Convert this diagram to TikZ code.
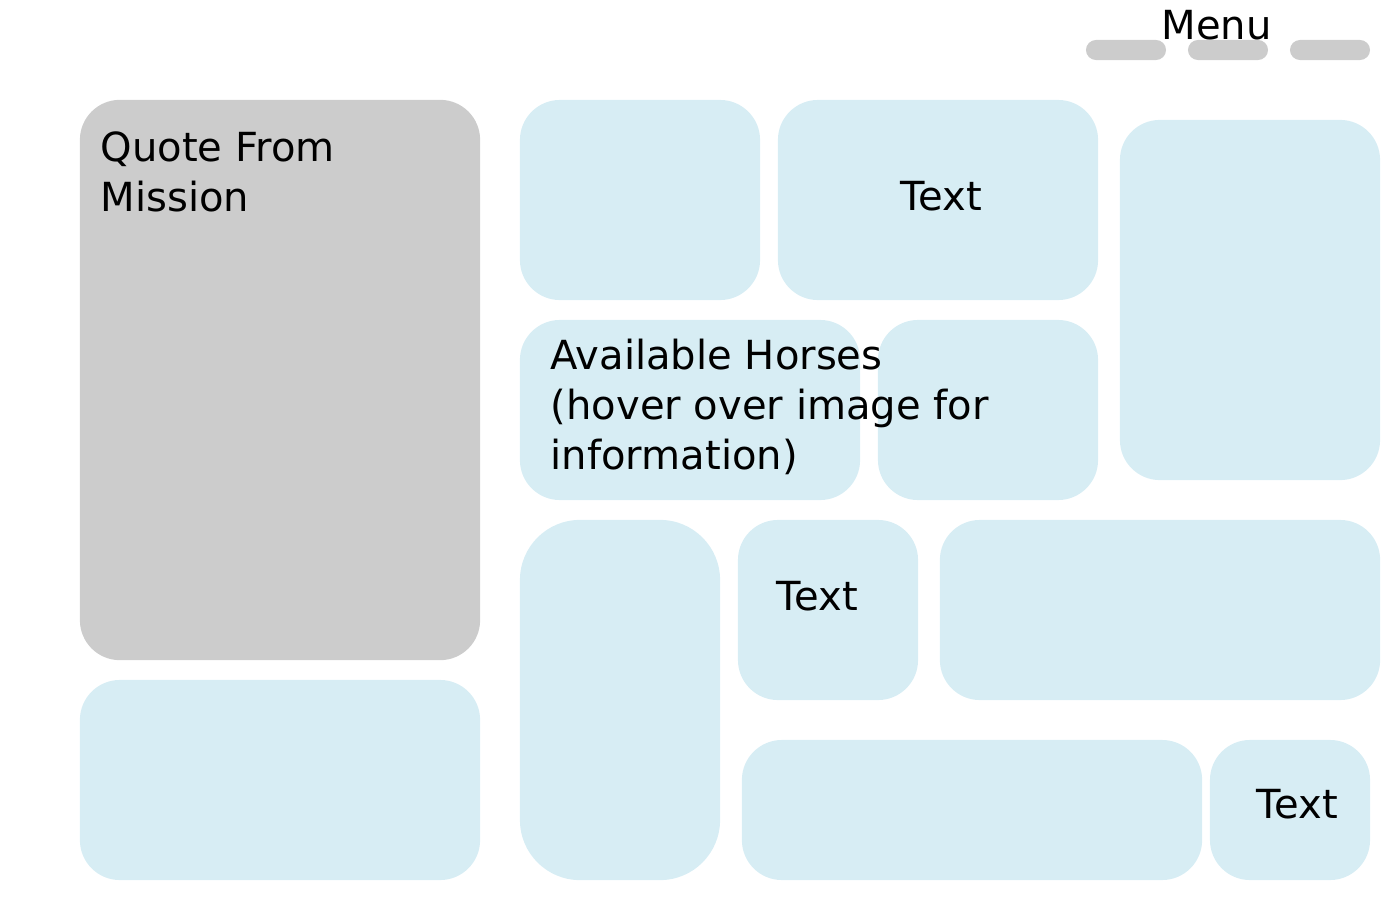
\documentclass[tikz,border=0pt]{standalone}
\usepackage{fontspec}
\setmainfont{DejaVu Sans}
\usetikzlibrary{positioning}

\definecolor{tileblue}{HTML}{D7EDF4}
\definecolor{tilegrey}{HTML}{CCCCCC}

\tikzset{
    tile/.style={fill=tileblue, draw=none, rounded corners=0.4cm, inner sep=0},
    greytile/.style={tile, fill=tilegrey},
    pill/.style={fill=tilegrey, draw=none, rounded corners=0.1cm,
        minimum width=0.8cm, minimum height=0.2cm, inner sep=0},
    lbl/.style={font=\fontsize{11.4}{14.2}\selectfont, inner sep=0,
        anchor=base west, align=left}
}

\begin{document}
\begin{tikzpicture}[x=0.01cm, y=-0.01cm]
\useasboundingbox (0,0) rectangle (1400,900);

% Menu
\node[pill] (pill1) at (1126,50) {};
\node[pill] (pill2) at (1228,50) {};
\node[pill] (pill3) at (1330,50) {};
\node[lbl] (menu) at (1161,39) {Menu};

% Left column
\node[greytile,
    minimum width=4cm,
    minimum height=5.6cm] (quote) at (280,380) {};
\node[tile,
    minimum width=4cm,
    minimum height=2cm] (bottomleft) at (280,780) {};

% Top row
\node[tile,
    minimum width=2.4cm,
    minimum height=2cm] (topA) at (640,200) {};
\node[tile,
    minimum width=3.2cm,
    minimum height=2cm] (topB) at (938,200) {};
\node[tile,
    minimum width=2.6cm,
    minimum height=3.6cm] (topC) at (1250,300) {};

% Middle row
\node[tile,
    minimum width=3.4cm,
    minimum height=1.8cm] (horses) at (690,410) {};
\node[tile,
    minimum width=2.2cm,
    minimum height=1.8cm] (midB) at (988,410) {};

% Lower rows
\node[tile,
    rounded corners=0.6cm,
    minimum width=2cm,
    minimum height=3.6cm] (tall) at (620,700) {};
\node[tile,
    minimum width=1.8cm,
    minimum height=1.8cm] (lowA) at (828,610) {};
\node[tile,
    minimum width=4.4cm,
    minimum height=1.8cm] (lowB) at (1160,610) {};
\node[tile,
    minimum width=4.6cm,
    minimum height=1.4cm] (baseA) at (972,810) {};
\node[tile,
    minimum width=1.6cm,
    minimum height=1.4cm] (baseB) at (1290,810) {};

% Labels (base = last line)
\node[lbl] (quotetext) at (100,211) {Quote From\\Mission};
\node[lbl] (horsestext) at (550,469) {Available Horses\\(hover over image for\\information)};
\node[lbl] (textB) at (900,210) {Text};
\node[lbl] (textA) at (776,610) {Text};
\node[lbl] (textC) at (1256,818) {Text};

\end{tikzpicture}
\end{document}
